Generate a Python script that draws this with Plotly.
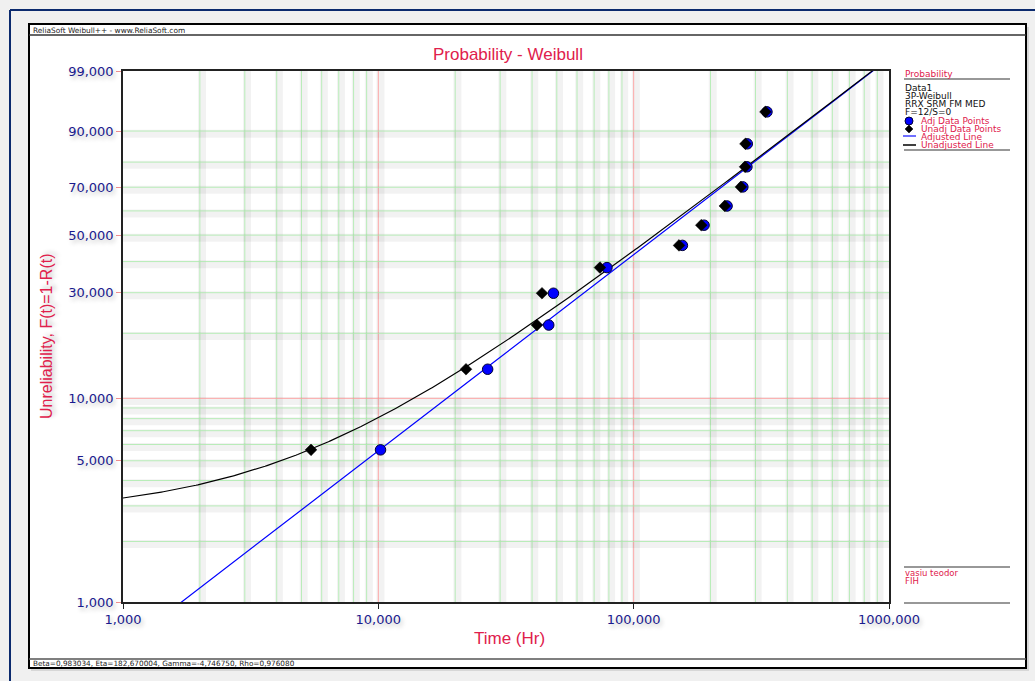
import numpy as np
import plotly.graph_objects as go

# ---------------- data ----------------
median_rank_pct = [5.65, 13.71, 21.77, 29.84, 37.90, 45.97, 54.03, 62.10, 70.16, 78.23, 86.29, 94.35]
unadj_time = [5.45, 22.05, 41.8, 43.75, 73.8, 150.5, 184.0, 227.5, 263.0, 273.0, 274.0, 328.0]
adj_time = [10.2, 26.8, 46.5, 48.5, 78.6, 155.2, 188.7, 232.2, 267.7, 277.7, 278.7, 332.7]
beta, eta, gamma, rho = 0.983034, 182.670004, -4.746750, 0.976080

x_tick_vals = [1, 10, 100, 1000]
x_tick_text = ["1,000", "10,000", "100,000", "1000,000"]
y_tick_pct = [1, 5, 10, 30, 50, 70, 90, 99]
y_tick_text = ["1,000", "5,000", "10,000", "30,000", "50,000", "70,000", "90,000", "99,000"]
y_grid_pct = [2, 3, 4, 5, 6, 7, 8, 9, 20, 30, 40, 50, 60, 70, 80, 90]


def wtrans(pct):
    f = np.asarray(pct, dtype=float) / 100.0
    return np.log(-np.log(1.0 - f))


# layout geometry (pixels)
W, H = 1035, 681
L, R, T, B = 123, 889, 71, 602


def px(x):
    return (x - L) / (R - L)


def py(y):
    return (B - y) / (B - T)


NAVY = "#1a1a8e"
CRIMSON = "#e0204c"
FONT = "DejaVu Sans"
TFONT = "Liberation Sans"

fig = go.Figure()

# fitted lines from the displayed parameters
t_unadj = np.logspace(0, 3, 400)
w_unadj = beta * np.log((t_unadj - gamma) / eta)
t_adj = np.logspace(0, 3, 400)
w_adj = beta * np.log(t_adj / eta)

fig.add_trace(go.Scatter(x=t_adj, y=w_adj, mode="lines",
                         line=dict(color="#0000ff", width=1.2), hoverinfo="skip"))
fig.add_trace(go.Scatter(x=t_unadj, y=w_unadj, mode="lines",
                         line=dict(color="#000000", width=1.2), hoverinfo="skip"))
fig.add_trace(go.Scatter(x=adj_time, y=wtrans(median_rank_pct), mode="markers",
                         marker=dict(symbol="circle", size=10.5, color="#0000ff",
                                     line=dict(color="#000033", width=1)),
                         cliponaxis=False))
fig.add_trace(go.Scatter(x=unadj_time, y=wtrans(median_rank_pct), mode="markers",
                         marker=dict(symbol="diamond", size=9, color="#000000",
                                     line=dict(color="#000000", width=0.5)),
                         cliponaxis=False))

shapes = []
# page border (navy) and white panel
shapes.append(dict(type="rect", xref="paper", yref="paper",
                   x0=px(31), x1=px(1029), y0=py(671), y1=py(27),
                   fillcolor="rgba(0,0,0,0.10)", line=dict(width=0), layer="below"))
shapes.append(dict(type="rect", xref="paper", yref="paper",
                   x0=px(29), x1=px(1026), y0=py(668), y1=py(24),
                   fillcolor="white", line=dict(color="black", width=2), layer="below"))
shapes.append(dict(type="line", xref="paper", yref="paper",
                   x0=px(10), x1=px(1040), y0=py(10), y1=py(10),
                   line=dict(color="#0b2a6e", width=2), layer="below"))
shapes.append(dict(type="line", xref="paper", yref="paper",
                   x0=px(10), x1=px(10), y0=py(10), y1=py(690),
                   line=dict(color="#0b2a6e", width=2), layer="below"))
shapes.append(dict(type="line", xref="paper", yref="paper",
                   x0=px(29), x1=px(1026), y0=py(35), y1=py(35),
                   line=dict(color="#333333", width=1.5), layer="below"))
shapes.append(dict(type="line", xref="paper", yref="paper",
                   x0=px(29), x1=px(1026), y0=py(659), y1=py(659),
                   line=dict(color="#555555", width=1.5), layer="below"))

# vertical grid
for dec in [1, 10, 100]:
    for m in range(1, 10):
        v = dec * m
        if v <= 1:
            continue
        major = m == 1
        col = "rgba(255,150,150,0.8)" if major else "rgba(170,235,170,0.8)"
        shapes.append(dict(type="line", xref="x", yref="paper", x0=v * 1.02, x1=v * 1.02,
                           y0=0, y1=1, line=dict(color="rgba(0,0,0,0.05)", width=8),
                           layer="below"))
        shapes.append(dict(type="line", xref="x", yref="paper", x0=v, x1=v,
                           y0=0, y1=1, line=dict(color=col, width=1), layer="below"))
# horizontal grid
for p in y_grid_pct + [10]:
    wv = float(wtrans([p])[0])
    col = "rgba(255,150,150,0.8)" if p == 10 else "rgba(170,235,170,0.8)"
    shapes.append(dict(type="line", xref="paper", yref="y", x0=0, x1=1,
                       y0=wv - 0.03, y1=wv - 0.03,
                       line=dict(color="rgba(0,0,0,0.05)", width=8), layer="below"))
    shapes.append(dict(type="line", xref="paper", yref="y", x0=0, x1=1, y0=wv, y1=wv,
                       line=dict(color=col, width=1), layer="below"))

# legend panel lines
for yy in [79, 150, 567, 603]:
    shapes.append(dict(type="line", xref="paper", yref="paper",
                       x0=px(904), x1=px(1010), y0=py(yy), y1=py(yy),
                       line=dict(color="#333333", width=1.2)))
shapes.append(dict(type="line", xref="paper", yref="paper",
                   x0=px(903), x1=px(916), y0=py(136), y1=py(136),
                   line=dict(color="#7070ff", width=2)))
shapes.append(dict(type="line", xref="paper", yref="paper",
                   x0=px(903), x1=px(916), y0=py(145), y1=py(145),
                   line=dict(color="#000000", width=1.5)))
# legend marker glyphs
shapes.append(dict(type="circle", xref="paper", yref="paper",
                   x0=px(905), x1=px(913), y0=py(125), y1=py(117),
                   fillcolor="#0000ff", line=dict(color="#000033", width=1)))
dx0, dx1, dxc = px(905), px(913), px(909)
dyc = py(129)
shapes.append(dict(type="path", xref="paper", yref="paper",
                   path=f"M {dxc} {py(125)} L {dx1} {dyc} L {dxc} {py(133)} L {dx0} {dyc} Z",
                   fillcolor="#000000", line=dict(color="#000000", width=0.5)))

fig.update_layout(shapes=shapes)

ann = []
shadow = "2px 3px 4px rgba(0,0,0,0.25)"


def text(x, y, s, size, color, anchor="left", family=FONT, **kw):
    ann.append(dict(x=px(x), y=py(y), xref="paper", yref="paper", text=s, showarrow=False,
                    xanchor=anchor, yanchor="middle",
                    font=dict(family=family, size=size, color=color), **kw))


text(31, 30, "ReliaSoft Weibull++ - www.ReliaSoft.com", 7.4, "#222222")
text(31, 663, "Beta=0,983034, Eta=182,670004, Gamma=-4,746750, Rho=0,976080", 7.3, "#222222")
text(508, 54, "Probability - Weibull", 17, CRIMSON, anchor="center", family=TFONT)
text(509, 638, "Time (Hr)", 17, CRIMSON, anchor="center", family=TFONT)
ann.append(dict(x=px(46), y=py(336), xref="paper", yref="paper",
                text="Unreliability, F(t)=1-R(t)", showarrow=False, textangle=-90,
                xanchor="center", yanchor="middle",
                font=dict(family=TFONT, size=16, color=CRIMSON, shadow=shadow)))

text(903, 74, "Probability", 9, CRIMSON)
text(903, 88, "Data1", 9, "#111111")
text(903, 96, "3P-Weibull", 9, "#111111")
text(903, 104, "RRX SRM FM MED", 9, "#111111")
text(903, 112, "F=12/S=0", 9, "#111111")
text(919, 121, "Adj Data Points", 9, CRIMSON)
text(919, 129, "Unadj Data Points", 9, CRIMSON)
text(919, 137, "Adjusted Line", 9, CRIMSON)
text(919, 145, "Unadjusted Line", 9, CRIMSON)
text(903, 573, "vasiu teodor", 8.5, CRIMSON)
text(903, 581, "FIH", 8.5, CRIMSON)

fig.update_layout(
    width=W, height=H,
    margin=dict(l=L, r=W - R, t=T, b=H - B, pad=0),
    paper_bgcolor="#f0f0f0",
    plot_bgcolor="rgba(0,0,0,0)",
    showlegend=False,
    annotations=ann,
    xaxis=dict(type="log", range=[0, 3], tickvals=x_tick_vals, ticktext=x_tick_text,
               showgrid=False, zeroline=False, showline=True, linecolor="#222222",
               linewidth=1.5, mirror=True, ticks="outside", ticklen=5, tickcolor="#222222",
               tickfont=dict(family=FONT, size=13, color=NAVY, shadow=shadow)),
    yaxis=dict(range=[float(wtrans([1])[0]), float(wtrans([99])[0])],
               tickvals=list(wtrans(y_tick_pct)), ticktext=y_tick_text,
               showgrid=False, zeroline=False, showline=True, linecolor="#222222",
               linewidth=1.5, mirror=True, ticks="outside", ticklen=5,
               tickcolor="rgba(240,130,130,0.9)",
               tickfont=dict(family=FONT, size=13, color=NAVY, shadow=shadow)),
)

fig.write_html("out.html", config={"displayModeBar": False},
               post_script="document.body.style.margin='0';document.body.style.overflow='hidden';")
